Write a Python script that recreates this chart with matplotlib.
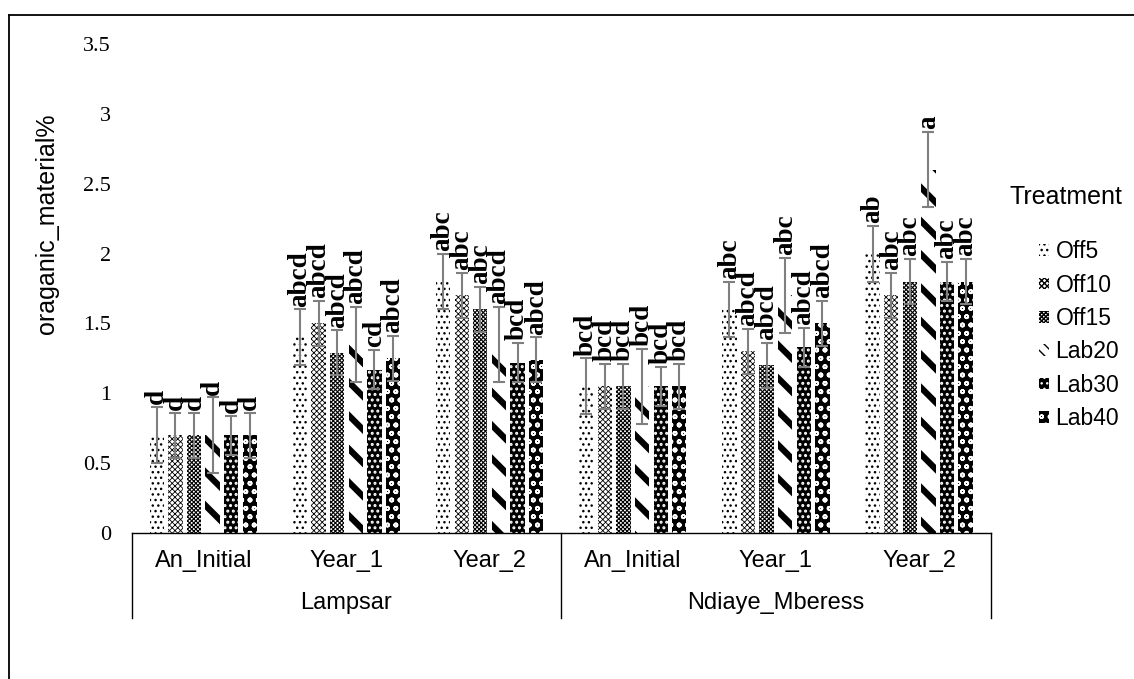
import matplotlib.pyplot as plt
import matplotlib.patches as mpatches
import numpy as np

# organic matter (%) per site / period, one list per treatment
sites = ['Lampsar', 'Ndiaye_Mberess']
periods = ['An_Initial', 'Year_1', 'Year_2']
treatments = ['Off5', 'Off10', 'Off15', 'Lab20', 'Lab30', 'Lab40']

off5 = [0.70, 1.40, 1.80, 1.05, 1.60, 2.00]
off10 = [0.70, 1.50, 1.70, 1.05, 1.30, 1.70]
off15 = [0.70, 1.29, 1.60, 1.05, 1.20, 1.80]
lab20 = [0.70, 1.35, 1.35, 1.05, 1.70, 2.60]
lab30 = [0.70, 1.17, 1.22, 1.05, 1.33, 1.80]
lab40 = [0.70, 1.25, 1.24, 1.05, 1.50, 1.80]
values = [off5, off10, off15, lab20, lab30, lab40]

# error bar half-widths per treatment
errors = [0.20, 0.16, 0.16, 0.27, 0.14, 0.16]

# letters from the mean comparison test
letters = [
    ['d', 'abcd', 'abc', 'bcd', 'abc', 'ab'],
    ['d', 'abcd', 'abc', 'bcd', 'abcd', 'abc'],
    ['d', 'abcd', 'abc', 'bcd', 'abcd', 'abc'],
    ['d', 'abcd', 'abcd', 'bcd', 'abc', 'a'],
    ['d', 'cd', 'bcd', 'bcd', 'abcd', 'abc'],
    ['d', 'abcd', 'abcd', 'bcd', 'abcd', 'abc'],
]

# fill style for each treatment: face, hatch colour, hatch, hatch width
styles = [
    ('white', 'black', '...', 1.0),
    ('white', 'black', 'xxxxxx', 0.6),
    ('white', 'black', 'xxxxxxxx', 0.8),
    ('white', 'black', '\\', 4.5),
    ('black', 'white', '...', 1.4),
    ('black', 'white', 'oo', 1.2),
]

W, H = 1134, 679
fig = plt.figure(figsize=(W / 100, H / 100), dpi=100)
ax = fig.add_axes([131.7 / W, 1 - 533 / H, 859 / W, 489 / H])

x = np.arange(len(sites) * len(periods))
pitch, width = 0.13, 0.10

handles = []
for i, name in enumerate(treatments):
    face, hcol, hatch, hlw = styles[i]
    xs = x + (i - 2.5) * pitch
    # legend key: denser, thinner stripes so they show in the small square
    key_hatch, key_lw = (hatch * 3, 2.0) if hatch == '\\' else (hatch, hlw)
    with plt.rc_context({'hatch.linewidth': hlw}):
        bars = ax.bar(xs, values[i], width, color=face, edgecolor=hcol,
                      hatch=hatch, linewidth=0, label=name)
    with plt.rc_context({'hatch.linewidth': key_lw}):
        key = mpatches.Patch(facecolor=face, edgecolor=hcol, hatch=key_hatch,
                             linewidth=0, label=name)
    if hasattr(key, 'set_hatch_linewidth'):
        key.set_hatch_linewidth(key_lw)
        for b in bars:
            b.set_hatch_linewidth(hlw)
    handles.append(key)
    ax.errorbar(xs, values[i], yerr=errors[i], fmt='none', ecolor='#7f7f7f',
                elinewidth=1.5, capsize=4.5, capthick=1.5)
    for xv, v, t in zip(xs, values[i], letters[i]):
        ax.text(xv, v + errors[i] + 0.02, t, rotation=90, ha='center',
                va='bottom', fontsize=19.5, fontweight='bold',
                family='Liberation Serif')

ax.set_xlim(-0.5, 5.5)
ax.set_ylim(0, 3.5)
ax.set_yticks(np.arange(0, 3.51, 0.5))
ax.set_yticklabels(['0', '0.5', '1', '1.5', '2', '2.5', '3', '3.5'],
                   family='Liberation Serif', fontsize=16)
ax.tick_params(axis='y', length=0, pad=15)
ax.set_xticks([])
for s in ['left', 'right', 'top']:
    ax.spines[s].set_visible(False)
ax.spines['bottom'].set_linewidth(1.0)

# two level category axis
tr = ax.get_xaxis_transform()
for xb in [-0.5, 2.5, 5.5]:
    ax.plot([xb, xb], [0, -0.174], color='black', lw=1.0, transform=tr,
            clip_on=False)
for k, p in enumerate(periods * len(sites)):
    ax.text(x[k], -0.057, p, transform=tr, ha='center', va='center',
            fontsize=17, family='Liberation Sans')
for k, s in enumerate(sites):
    ax.text(1 + 3 * k, -0.143, s, transform=tr, ha='center', va='center',
            fontsize=17, family='Liberation Sans')

fig.text(47 / W, 1 - 224 / H, 'oraganic_material%', rotation=90,
         ha='center', va='center', fontsize=18, family='Liberation Sans')

fig.text(1010 / W, 1 - 197 / H, 'Treatment', ha='left', va='center',
         fontsize=18, family='Liberation Sans')
fig.legend(handles=handles, loc='upper left',
           bbox_to_anchor=(1028 / W, 1 - 229 / H), frameon=False,
           borderpad=0, handlelength=0.4, handleheight=0.4,
           handletextpad=0.3, labelspacing=0.45,
           prop={'family': 'Liberation Sans', 'size': 16.5})

# outer frame of the chart area
fig.add_artist(plt.Line2D([9 / W, 9 / W], [0, 1 - 15 / H], color='black',
                          lw=1.3, transform=fig.transFigure))
fig.add_artist(plt.Line2D([9 / W, 1], [1 - 15 / H, 1 - 15 / H],
                          color='black', lw=1.3, transform=fig.transFigure))

fig.savefig('out.png', dpi=100)
